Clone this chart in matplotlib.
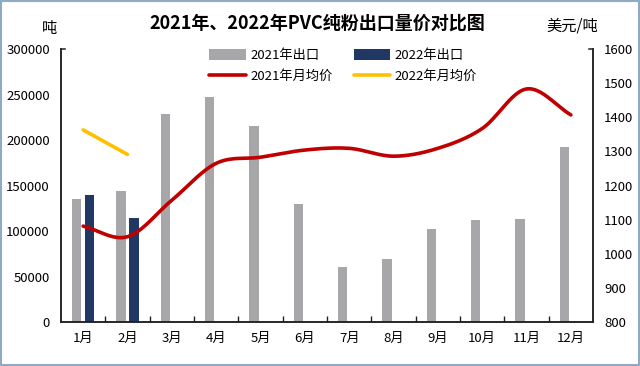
import numpy as np
import matplotlib
matplotlib.use("Agg")
import matplotlib.pyplot as plt
from matplotlib.patches import Rectangle
from matplotlib.lines import Line2D

plt.rcParams['font.family'] = ['Noto Sans CJK SC', 'DejaVu Sans']

months = ["1月", "2月", "3月", "4月", "5月", "6月", "7月", "8月", "9月", "10月", "11月", "12月"]
export_2021 = [135000, 144000, 229000, 247500, 215500, 129500, 61000, 69000, 102000, 112000, 113500, 192000]
export_2022 = [139500, 114000]
price_2021 = [1081, 1050, 1157, 1265, 1283, 1304, 1309, 1286, 1309, 1367, 1483, 1407]
price_2022 = [1363, 1291]

GRAY = "#A7A7AA"
NAVY = "#1F3864"
RED = "#C00000"
YELLOW = "#FFC000"


def catmull_rom(x, y, n=30):
    x = np.asarray(x, float)
    y = np.asarray(y, float)
    px = np.concatenate([[2 * x[0] - x[1]], x, [2 * x[-1] - x[-2]]])
    py = np.concatenate([[2 * y[0] - y[1]], y, [2 * y[-1] - y[-2]]])
    xs, ys = [], []
    t = np.linspace(0, 1, n, endpoint=False)
    for i in range(1, len(px) - 2):
        p0, p1, p2, p3 = py[i - 1], py[i], py[i + 1], py[i + 2]
        q0, q1, q2, q3 = px[i - 1], px[i], px[i + 1], px[i + 2]
        ys.append(0.5 * ((2 * p1) + (-p0 + p2) * t + (2 * p0 - 5 * p1 + 4 * p2 - p3) * t ** 2 + (-p0 + 3 * p1 - 3 * p2 + p3) * t ** 3))
        xs.append(0.5 * ((2 * q1) + (-q0 + q2) * t + (2 * q0 - 5 * q1 + 4 * q2 - q3) * t ** 2 + (-q0 + 3 * q1 - 3 * q2 + q3) * t ** 3))
    xs.append([x[-1]])
    ys.append([y[-1]])
    return np.concatenate(xs), np.concatenate(ys)


fig = plt.figure(figsize=(6.4, 3.66), dpi=100)
fig.patch.set_facecolor("white")
ax = fig.add_axes([0.0953, 0.1202, 0.8313, 0.7458])
ax2 = ax.twinx()

x = np.arange(len(months))
bw = 0.21
off = 0.147
ax.bar(x - off, export_2021, width=bw, color=GRAY, label="2021年出口", zorder=2)
ax.bar(x[:len(export_2022)] + off, export_2022, width=bw, color=NAVY, label="2022年出口", zorder=2)

sx, sy = catmull_rom(x, price_2021)
ax2.plot(sx, sy, color=RED, lw=2.6, solid_capstyle="round", label="2021年月均价")
ax2.plot(x[:len(price_2022)], price_2022, color=YELLOW, lw=2.6, solid_capstyle="round", label="2022年月均价")

ax.set_xlim(-0.5, 11.5)
ax.set_ylim(0, 300000)
ax2.set_ylim(800, 1600)
ax.set_yticks(np.arange(0, 300001, 50000))
ax2.set_yticks(np.arange(800, 1601, 100))

ax.set_xticks(np.arange(0.5, 11, 1))
ax.set_xticklabels([])
ax.set_xticks(x, minor=True)
ax.set_xticklabels(months, minor=True)
ax.tick_params(axis="x", which="major", direction="in", length=4, width=1, color="#222222")
ax.tick_params(axis="x", which="minor", length=0, pad=7, labelsize=9.5)
ax.tick_params(axis="y", length=0, pad=8, labelsize=9.5)
ax2.tick_params(axis="y", length=0, pad=8, labelsize=9.5)

for a in (ax, ax2):
    a.spines["top"].set_visible(False)
    for s in ("left", "right", "bottom"):
        a.spines[s].set_color("#222222")
        a.spines[s].set_linewidth(1.1)
ax.patch.set_visible(False)

# small caps at top of the two value axes
ax.add_line(Line2D([0, 0.008], [1, 1], transform=ax.transAxes, color="#222222", lw=1.1, clip_on=False))
ax.add_line(Line2D([1, 0.992], [1, 1], transform=ax.transAxes, color="#222222", lw=1.1, clip_on=False))

h1, l1 = ax.get_legend_handles_labels()
h2, l2 = ax2.get_legend_handles_labels()
handles = [h1[0], h2[0], h1[1], h2[1]]
labels = [l1[0], l2[0], l1[1], l2[1]]
leg = ax.legend(handles, labels, ncol=2, loc="upper center", bbox_to_anchor=(0.53, 1.045),
                frameon=False, fontsize=9.5, handlelength=2.8, handleheight=0.9,
                columnspacing=1.6, handletextpad=0.3, labelspacing=0.6)

fig.text(0.496, 0.937, "2021年、2022年PVC纯粉出口量价对比图", ha="center", va="center",
         fontsize=13, fontweight="bold")
fig.text(0.078, 0.922, "吨", ha="center", va="center", fontsize=11)
fig.text(0.894, 0.928, "美元/吨", ha="center", va="center", fontsize=11)

fig.patches.append(Rectangle((0.002, 0.003), 0.996, 0.994, transform=fig.transFigure,
                             fill=False, edgecolor="#8FAAC4", lw=1.5))

fig.savefig("out.png", dpi=100, facecolor="white")
